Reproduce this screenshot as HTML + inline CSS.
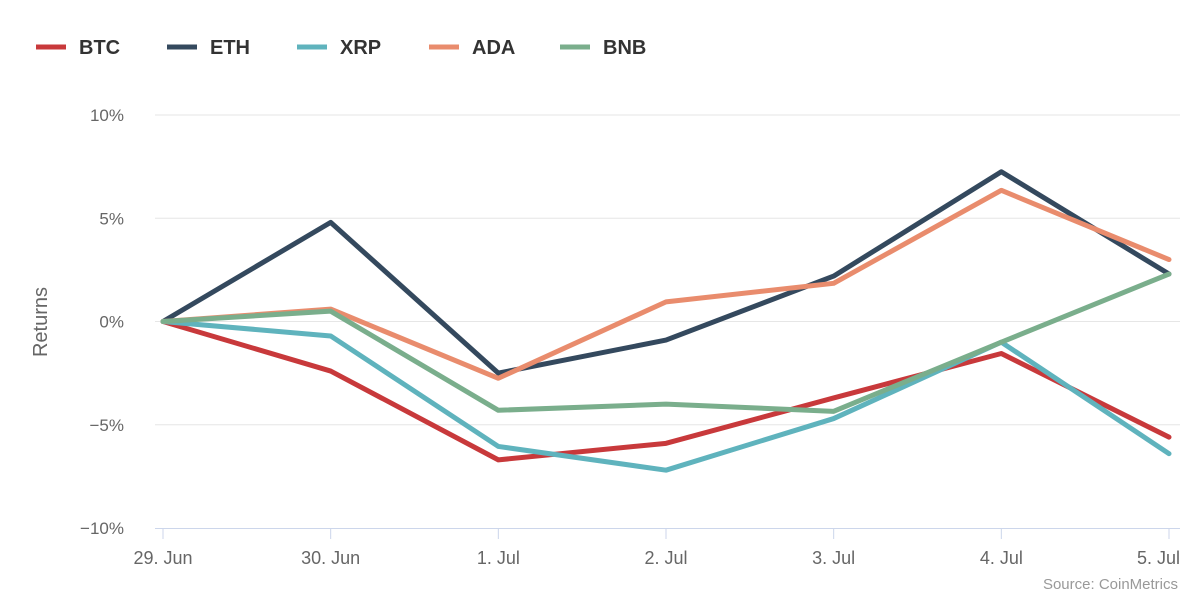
<!DOCTYPE html>
<html><head><meta charset="utf-8"><style>
body{margin:0;background:#fff;font-family:"Liberation Sans",sans-serif}
svg text{font-family:"Liberation Sans",sans-serif}
</style></head><body>
<svg id="chart" width="1200" height="600" xmlns="http://www.w3.org/2000/svg">
<g id="grid"></g>
<g id="yticks"></g>
<g id="xaxis"></g>
<g id="series"></g>
<g id="legend"></g>
<text transform="translate(47,322) rotate(-90)" text-anchor="middle" font-size="20" fill="#666">Returns</text>
<text x="1178" y="589" text-anchor="end" font-size="15" fill="#999">Source: CoinMetrics</text>
</svg>
<script>
const categories=["29. Jun","30. Jun","1. Jul","2. Jul","3. Jul","4. Jul","5. Jul"];
const yTicks=[10,5,0,-5,-10];
const yTickLabels=["10%","5%","0%","−5%","−10%"];
const seriesNames=["BTC","ETH","XRP","ADA","BNB"];
const btc=[0,-2.4,-6.7,-5.9,-3.7,-1.55,-5.6];
const eth=[0,4.8,-2.5,-0.9,2.2,7.25,2.3];
const xrp=[0,-0.7,-6.05,-7.2,-4.7,-1.0,-6.4];
const ada=[0,0.6,-2.75,0.95,1.85,6.35,3.0];
const bnb=[0,0.5,-4.3,-4.0,-4.35,-1.0,2.3];
const colors=["#c8393b","#34495e","#5fb3bd","#e98c6d","#7aae8c"];
const NS="http://www.w3.org/2000/svg";
function mk(t,a,p){const e=document.createElementNS(NS,t);for(const k in a)e.setAttribute(k,a[k]);p.appendChild(e);return e;}
const x0=163,x1=1169,yTop=115,yBot=528;
function xs(i){return x0+i*(x1-x0)/(categories.length-1);}
function ys(v){return yTop+(10-v)*(yBot-yTop)/20;}
const grid=document.getElementById('grid'),yt=document.getElementById('yticks'),xa=document.getElementById('xaxis');
yTicks.forEach((v,i)=>{
 if(v!==-10){const l=mk('line',{x1:155,x2:1180,y1:ys(v),y2:ys(v),stroke:'#e6e6e6','stroke-width':1},grid);
 
 }
 const t=mk('text',{x:124,y:ys(v)+6,'text-anchor':'end','font-size':17,fill:'#666'},yt);t.textContent=yTickLabels[i];
 
 
});
const ax=mk('line',{x1:155,x2:1180,y1:yBot+0.5,y2:yBot+0.5,stroke:'#ccd6eb','stroke-width':1},xa);


categories.forEach((c,i)=>{
 const tk=mk('line',{x1:xs(i),x2:xs(i),y1:yBot,y2:yBot+11,stroke:'#ccd6eb','stroke-width':1},xa);
 
 
 let anchor='middle',xx=xs(i);
 if(i===categories.length-1){anchor='end';xx=1180;}
 const t=mk('text',{x:xx,y:564,'text-anchor':anchor,'font-size':18,fill:'#666'},xa);t.textContent=c;
 
 
});
const data=[btc,eth,xrp,ada,bnb];
const sg=document.getElementById('series');
data.forEach((d,s)=>{
 const p=mk('polyline',{points:d.map((v,i)=>xs(i)+','+ys(v)).join(' '),fill:'none',stroke:colors[s],'stroke-width':5,'stroke-linejoin':'round','stroke-linecap':'round'},sg);
 
 
});
const lg=document.getElementById('legend');
const lx=[36,167,297,429,560];
seriesNames.forEach((n,s)=>{
 const g=mk('g',{},lg);
 
 
 mk('line',{x1:lx[s],x2:lx[s]+30,y1:47,y2:47,stroke:colors[s],'stroke-width':5},g);
 const t=mk('text',{x:lx[s]+43,y:54,'font-size':20,'font-weight':'bold',fill:'#333'},g);t.textContent=n;
});
</script>
</body></html>
